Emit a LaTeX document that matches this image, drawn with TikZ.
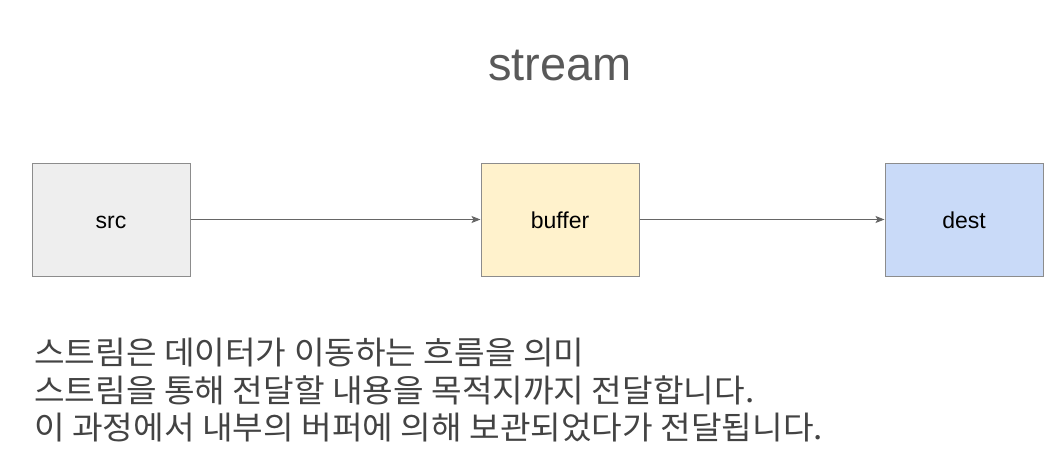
\documentclass[tikz,border=0pt]{standalone}
\usepackage{fontspec}
\setmainfont{Liberation Sans}
\newfontfamily\krfont[FakeStretch=1.04]{Noto Sans CJK KR}
\usetikzlibrary{arrows.meta}
\definecolor{srcfill}{HTML}{EEEEEE}
\definecolor{buffill}{HTML}{FFF2CC}
\definecolor{destfill}{HTML}{C9DAF8}
\definecolor{edgegray}{HTML}{8C8C8C}
\definecolor{arrowgray}{HTML}{666666}
\definecolor{titlegray}{HTML}{595959}
\definecolor{bodygray}{HTML}{434343}
\tikzset{
  box/.style={draw=edgegray, line width=1pt, minimum width=158pt, minimum height=113pt, inner sep=0pt, text height=19pt, text depth=1pt, font=\fontsize{23}{26}\selectfont},
  flow/.style={draw=arrowgray, line width=1pt, -{Stealth[length=9pt,width=7pt,inset=2pt]}}
}
\begin{document}
\begin{tikzpicture}[x=1pt,y=-1pt]
\useasboundingbox (0,0) rectangle (1059,468);
\node[text=titlegray, font=\fontsize{47}{50}\selectfont] (title) at (560,66) {stream};
\node[box, fill=srcfill] (src) at (111,219.5) {src};
\node[box, fill=buffill] (buf) at (560,219.5) {buffer};
\node[box, fill=destfill] (dest) at (964,219.5) {dest};
\draw[flow] (src.east) -- (buf.west);
\draw[flow] (buf.east) -- (dest.west);
\node[anchor=north west, inner sep=0pt, text=bodygray, align=left,
  font=\krfont\fontsize{32}{37.5}\selectfont] (body) at (34,338)
  {스트림은 데이터가 이동하는 흐름을 의미\\
   스트림을 통해 전달할 내용을 목적지까지 전달합니다.\\
   이 과정에서 내부의 버퍼에 의해 보관되었다가 전달됩니다.};
\end{tikzpicture}
\end{document}
